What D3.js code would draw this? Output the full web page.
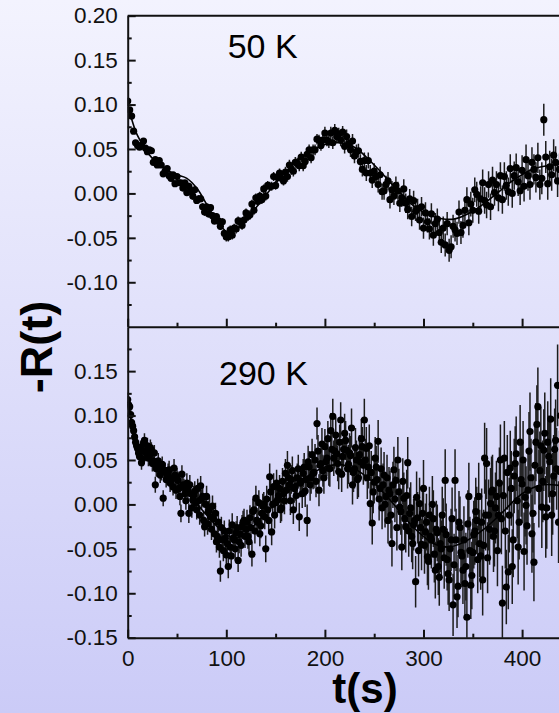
<!DOCTYPE html>
<html>
<head>
<meta charset="utf-8">
<script src="https://cdn.jsdelivr.net/npm/d3@7"></script>
<style>
  html, body { margin: 0; padding: 0; }
  body { width: 559px; height: 713px; overflow: hidden; }
  svg { display: block; font-family: "Liberation Sans", Arial, sans-serif; }
</style>
</head>
<body>
<div id="chart"></div>
<script>
// sampling interval of each listed run (s)
const tStep = 2;

// -R(t) at 50 K, t = 0, 2, 4, ...
const topValues = [
  0.104, 0.094, 0.087, 0.070, 0.057, 0.054, 0.052, 0.054, 0.059, 0.051,
  0.047, 0.049, 0.048, 0.035, 0.038, 0.032, 0.037, 0.032, 0.022, 0.025,
  0.028, 0.020, 0.017, 0.021, 0.011, 0.019, 0.012, 0.012, 0.006, 0.012,
  0.001, 0.008, 0.002, -0.003, 0.004, -0.008, -0.006, -0.006, -0.015, -0.021,
  -0.015, -0.023, -0.016, -0.025, -0.031, -0.026, -0.031, -0.037, -0.032, -0.045,
  -0.049, -0.049, -0.041, -0.047, -0.039, -0.040, -0.031, -0.032, -0.036, -0.030,
  -0.022, -0.026, -0.024, -0.012, -0.019, -0.005, -0.009, -0.003, -0.007, 0.005,
  -0.003, 0.009, 0.008, 0.008, 0.019, 0.009, 0.018, 0.023, 0.017, 0.014,
  0.024, 0.019, 0.032, 0.027, 0.025, 0.035, 0.034, 0.031, 0.041, 0.031,
  0.036, 0.044, 0.049, 0.040, 0.049, 0.049, 0.061, 0.060, 0.054, 0.060,
  0.068, 0.060, 0.058, 0.068, 0.057, 0.071, 0.064, 0.067, 0.060, 0.069,
  0.053, 0.064, 0.056, 0.049, 0.059, 0.042, 0.047, 0.048, 0.036, 0.027,
  0.037, 0.023, 0.037, 0.023, 0.015, 0.025, 0.019, 0.010, 0.021, 0.002,
  0.003, 0.010, 0.014, -0.007, 0.004, -0.003, 0.009, 0.003, -0.011, -0.005,
  0.005, -0.011, -0.018, -0.006, -0.026, -0.008, -0.020, -0.017, -0.030, -0.015,
  -0.039, -0.022, -0.032, -0.040, -0.023, -0.047, -0.034, -0.029, -0.044, -0.055,
  -0.039, -0.058, -0.034, -0.064, -0.060, -0.037, -0.041, -0.045, -0.021, -0.044,
  -0.036, -0.019, -0.007, -0.033, -0.012, -0.019, 0.004, -0.001, -0.020, -0.006,
  0.012, -0.008, -0.013, 0.010, -0.015, 0.015, 0.001, 0.010, -0.005, 0.020,
  -0.007, 0.019, 0.009, 0.002, 0.028, 0.000, 0.020, 0.029, 0.013, 0.003,
  0.026, 0.008, 0.038, 0.020, 0.010, 0.035, 0.027, 0.018, 0.040, 0.010,
  0.017, 0.083, 0.041, 0.011, 0.030, 0.021, 0.043, 0.035, 0.014, 0.027
];
// error bar half-length at 50 K, one value per 20 s
const topErr = [0.003, 0.003, 0.003, 0.004, 0.004, 0.005, 0.005, 0.005, 0.006, 0.006, 0.007,
                0.008, 0.009, 0.010, 0.011, 0.012, 0.013, 0.014, 0.015, 0.016, 0.017, 0.018];

// -R(t) at 290 K, t = 0, 2, 4, ...
const botEven = [
  0.118, 0.110, 0.092, 0.083, 0.070, 0.063, 0.054, 0.047, 0.068, 0.060,
  0.066, 0.055, 0.061, 0.049, 0.022, 0.043, 0.042, 0.036, 0.007, 0.038,
  0.032, 0.039, 0.026, 0.020, 0.033, 0.031, 0.018, -0.010, 0.022, 0.012,
  0.024, -0.010, 0.012, 0.005, 0.015, -0.006, 0.004, 0.021, 0.009, -0.025,
  0.009, -0.008, -0.014, -0.002, -0.033, -0.042, -0.020, -0.075, -0.040, -0.030,
  -0.057, -0.070, -0.048, -0.023, -0.040, -0.032, -0.063, -0.033, -0.025, -0.018,
  -0.028, -0.036, -0.015, -0.056, -0.006, 0.007, -0.020, -0.033, -0.010, 0.000,
  -0.050, -0.006, 0.031, -0.031, 0.020, 0.002, 0.005, 0.018, -0.004, 0.012,
  0.035, 0.044, 0.022, 0.028, -0.006, 0.020, 0.030, -0.014, 0.026, 0.035,
  0.015, -0.018, 0.042, 0.030, 0.035, 0.050, 0.091, 0.016, 0.046, 0.038,
  0.065, 0.052, 0.041, 0.083, 0.099, 0.060, 0.057, 0.037, 0.095, 0.054,
  0.080, 0.061, 0.045, 0.055, 0.022, 0.040, 0.050, 0.030, 0.048, 0.065,
  0.095, 0.063, 0.042, 0.001, -0.021, 0.025, 0.042, 0.071, 0.018, -0.004,
  0.033, 0.009, -0.018, 0.012, -0.044, 0.039, 0.027, 0.050, -0.003, -0.048,
  0.007, -0.025, 0.047, -0.010, -0.036, -0.023, -0.087, -0.015, 0.001, -0.045,
  0.018, -0.031, -0.059, -0.012, -0.040, -0.016, -0.074, -0.032, -0.082, -0.050,
  -0.028, 0.027, -0.062, -0.085, -0.040, -0.113, 0.027, -0.104, -0.020, -0.054,
  -0.074, -0.089, -0.127, 0.009, -0.091, -0.054, -0.030, -0.018, 0.009, -0.058,
  -0.085, 0.052, 0.046, -0.012, 0.001, 0.016, -0.030, 0.009, -0.012, 0.050,
  -0.111, 0.052, -0.093, -0.076, 0.041, -0.070, 0.032, 0.057, -0.048, 0.070,
  0.023, -0.053, -0.001, 0.016, 0.082, -0.033, -0.065, 0.070, 0.110, 0.038,
  -0.003, 0.061, -0.014, 0.070, 0.048, -0.012, 0.032, 0.072, 0.134, 0.037
];
// -R(t) at 290 K, t = 1, 3, 5, ...
const botOdd = [
  0.112, 0.101, 0.088, 0.076, 0.066, 0.058, 0.064, 0.051, 0.072, 0.057,
  0.052, 0.064, 0.046, 0.058, 0.040, 0.049, 0.033, 0.045, 0.038, 0.028,
  0.036, 0.024, 0.030, 0.041, 0.016, 0.027, 0.009, 0.034, 0.019, 0.004,
  0.016, 0.022, -0.004, 0.010, 0.002, 0.018, -0.012, 0.006, -0.018, 0.000,
  -0.022, -0.004, -0.028, -0.016, -0.010, -0.036, -0.048, -0.026, -0.052, -0.038,
  -0.044, -0.030, -0.058, -0.038, -0.050, -0.026, -0.042, -0.046, -0.020, -0.036,
  -0.020, -0.042, -0.026, -0.008, -0.030, -0.018, 0.002, -0.024, -0.002, -0.014,
  0.006, -0.018, 0.014, 0.000, -0.012, 0.024, 0.010, -0.006, 0.026, 0.004,
  0.016, 0.030, 0.004, 0.038, 0.018, 0.010, 0.040, 0.024, 0.012, 0.042,
  0.028, 0.048, 0.022, 0.056, 0.036, 0.026, 0.060, 0.044, 0.068, 0.030,
  0.048, 0.074, 0.040, 0.062, 0.052, 0.078, 0.046, 0.070, 0.034, 0.062,
  0.072, 0.040, 0.058, 0.086, 0.036, 0.064, 0.028, 0.056, 0.074, 0.044,
  0.050, 0.030, 0.066, 0.036, 0.014, 0.052, 0.028, 0.006, 0.040, 0.022,
  0.000, 0.030, 0.016, -0.012, 0.022, 0.006, -0.026, 0.014, -0.008, 0.026,
  -0.016, 0.010, -0.030, -0.004, -0.044, -0.018, 0.008, -0.052, -0.026, -0.010,
  -0.046, -0.020, -0.064, -0.036, 0.000, -0.056, -0.028, -0.070, -0.044, -0.012,
  -0.060, -0.034, -0.078, -0.050, -0.016, -0.068, -0.040, -0.092, -0.026, -0.058,
  -0.040, -0.070, -0.022, -0.052, -0.080, -0.034, -0.008, -0.062, -0.044, -0.020,
  -0.046, -0.012, -0.060, -0.028, 0.014, -0.036, -0.004, -0.052, 0.024, -0.016,
  0.010, -0.030, 0.036, -0.012, 0.018, -0.040, 0.046, 0.004, -0.020, 0.028,
  0.050, 0.008, -0.024, 0.060, 0.030, -0.010, 0.044, 0.090, 0.018, 0.066,
  0.026, 0.080, -0.004, 0.054, 0.096, 0.012, 0.062, 0.040, -0.020, 0.100
];
const botErr = [0.008, 0.009, 0.010, 0.011, 0.012, 0.013, 0.014, 0.015, 0.016, 0.018, 0.020,
                0.022, 0.024, 0.026, 0.029, 0.032, 0.035, 0.038, 0.040, 0.042, 0.044, 0.046];

// fitted curves, read at knots
const fitTopT = [0, 5, 10, 20, 30, 40, 50, 60, 70, 80, 90, 100, 105, 110, 120, 140, 160, 180, 200, 215,
                 230, 250, 270, 290, 310, 330, 350, 370, 390, 410, 430, 450];
const fitTopV = [0.100, 0.080, 0.065, 0.046, 0.034, 0.026, 0.021, 0.017, 0.006, -0.012, -0.030, -0.043,
                 -0.045, -0.041, -0.030, -0.002, 0.024, 0.044, 0.055, 0.057, 0.052, 0.032, 0.008, -0.014,
                 -0.026, -0.029, -0.020, -0.004, 0.014, 0.027, 0.032, 0.033];
const fitBotT = [0, 5, 10, 20, 30, 40, 60, 80, 100, 110, 120, 140, 160, 180, 200, 215, 230, 250, 270,
                 290, 310, 325, 340, 360, 380, 400, 420, 440, 460];
const fitBotV = [0.115, 0.085, 0.065, 0.052, 0.043, 0.034, 0.014, -0.012, -0.034, -0.038, -0.032, -0.010,
                 0.012, 0.030, 0.042, 0.045, 0.040, 0.024, 0.000, -0.026, -0.044, -0.048, -0.043, -0.029,
                 -0.009, 0.012, 0.022, 0.021, 0.016];

// axis ticks
const xTicks = [0, 100, 200, 300, 400];
const xMinor = [50, 150, 250, 350, 450];
const topTicks = [0.20, 0.15, 0.10, 0.05, 0.00, -0.05, -0.10];
const botTicks = [0.15, 0.10, 0.05, 0.00, -0.05, -0.10, -0.15];
const yMinor = [0.175, 0.125, 0.075, 0.025, -0.025, -0.075, -0.125];

const width = 559, height = 713;
const plotLeft = 127.7;

const svg = d3.select("#chart").append("svg")
  .attr("width", width)
  .attr("height", height);

// background gradient
const defs = svg.append("defs");
const grad = defs.append("linearGradient")
  .attr("id", "bg")
  .attr("x1", 0).attr("y1", 0).attr("x2", 0).attr("y2", 1);
grad.append("stop").attr("offset", "0%").attr("stop-color", "#f3f3fe");
grad.append("stop").attr("offset", "100%").attr("stop-color", "#cbcbf7");
svg.append("rect").attr("width", width).attr("height", height).attr("fill", "url(#bg)");

const x = d3.scaleLinear().domain([0, 500]).range([plotLeft, plotLeft + 493]);

const topPts = topValues.map((v, i) => ({ t: i * tStep, v: v }));
const botPts = botEven.map((v, i) => ({ t: i * tStep, v: v }))
  .concat(botOdd.map((v, i) => ({ t: i * tStep + 1, v: v })));

const panels = [
  { id: "top", top: 15.7, bottom: 326.7, pts: topPts, err: topErr,
    fitT: fitTopT, fitV: fitTopV, ticks: topTicks, label: "50 K", lx: 227.7, ly: 57.7, xLabels: false },
  { id: "bot", top: 326.7, bottom: 637.7, pts: botPts, err: botErr,
    fitT: fitBotT, fitV: fitBotV, ticks: botTicks, label: "290 K", lx: 219, ly: 385, xLabels: true }
];

function styleAxis(g) {
  g.select(".domain").attr("stroke", "#111").attr("stroke-width", 2);
  g.selectAll(".tick line").attr("stroke", "#111").attr("stroke-width", 2);
  g.selectAll(".tick text").attr("fill", "#111").style("font-size", "22.5px");
}

panels.forEach(p => {
  const y = d3.scaleLinear().domain([-0.15, 0.20]).range([p.bottom, p.top]);
  const errOf = d => p.err[Math.floor(d.t / 20)];

  defs.append("clipPath").attr("id", "clip-" + p.id)
    .append("rect")
    .attr("x", plotLeft).attr("y", p.top)
    .attr("width", width - plotLeft).attr("height", p.bottom - p.top);

  const g = svg.append("g").attr("clip-path", `url(#clip-${p.id})`);

  // error bars
  g.selectAll(".err")
    .data(p.pts)
    .join("line")
    .attr("class", "err")
    .attr("x1", d => x(d.t)).attr("x2", d => x(d.t))
    .attr("y1", d => y(d.v - errOf(d))).attr("y2", d => y(d.v + errOf(d)))
    .attr("stroke", "#1c1c1c")
    .attr("stroke-width", 1.5);

  // points
  g.selectAll(".pt")
    .data(p.pts)
    .join("circle")
    .attr("class", "pt")
    .attr("cx", d => x(d.t))
    .attr("cy", d => y(d.v))
    .attr("r", 3.6)
    .attr("fill", "#000");

  // fit
  const fit = p.fitT.map((t, i) => [t, p.fitV[i]]);
  g.append("path")
    .datum(fit)
    .attr("d", d3.line().x(d => x(d[0])).y(d => y(d[1])).curve(d3.curveCatmullRom.alpha(0.5)))
    .attr("fill", "none")
    .attr("stroke", "#000")
    .attr("stroke-width", 1.6);

  // left axis, ticks inward
  svg.append("g")
    .attr("transform", `translate(${plotLeft},0)`)
    .call(d3.axisLeft(y).tickValues(p.ticks).tickSize(-8).tickSizeOuter(0).tickPadding(10)
      .tickFormat(d => d.toFixed(2)))
    .call(styleAxis);
  svg.append("g")
    .attr("transform", `translate(${plotLeft},0)`)
    .call(d3.axisLeft(y).tickValues(yMinor).tickSize(-4).tickFormat(""))
    .call(g => g.select(".domain").remove())
    .call(styleAxis);

  // bottom axis of the panel, ticks pointing up
  svg.append("g")
    .attr("transform", `translate(0,${p.bottom})`)
    .call(d3.axisBottom(x).tickValues(xTicks).tickSize(-8).tickSizeOuter(0).tickPadding(12)
      .tickFormat(p.xLabels ? d3.format("d") : ""))
    .call(styleAxis);
  svg.append("g")
    .attr("transform", `translate(0,${p.bottom})`)
    .call(d3.axisBottom(x).tickValues(xMinor).tickSize(-4).tickFormat(""))
    .call(g => g.select(".domain").remove())
    .call(styleAxis);

  // temperature label
  svg.append("text")
    .attr("x", p.lx)
    .attr("y", p.ly)
    .style("font-size", "34px")
    .attr("fill", "#000")
    .text(p.label);
});

// top frame line
svg.append("line")
  .attr("x1", plotLeft).attr("x2", width)
  .attr("y1", 15.7).attr("y2", 15.7)
  .attr("stroke", "#111").attr("stroke-width", 2);

// axis titles
svg.append("text")
  .attr("transform", "translate(52,347) rotate(-90)")
  .attr("text-anchor", "middle")
  .style("font-size", "45px")
  .style("font-weight", "bold")
  .text("-R(t)");

svg.append("text")
  .attr("x", 365)
  .attr("y", 703)
  .attr("text-anchor", "middle")
  .style("font-size", "42px")
  .style("font-weight", "bold")
  .text("t(s)");
</script>
</body>
</html>
